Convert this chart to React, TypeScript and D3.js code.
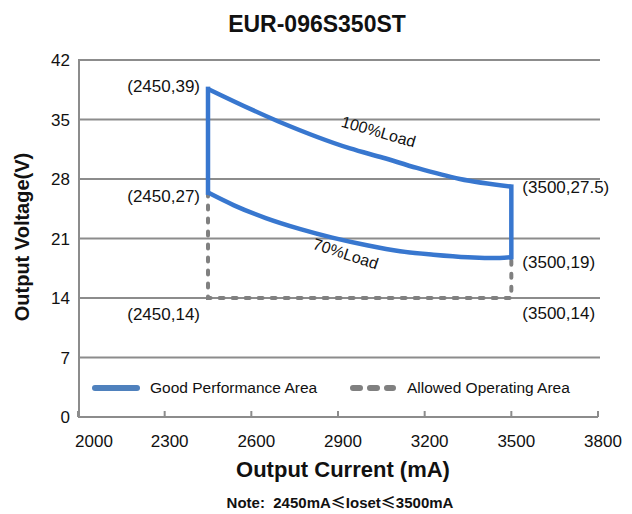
import React from "react";
import * as d3 from "d3";

const title = "EUR-096S350ST";
const xTicks = [2000, 2300, 2600, 2900, 3200, 3500, 3800];
const yTicks = [0, 7, 14, 21, 28, 35, 42];

// 100% load curve (mA, V)
const load100X = [2450, 2692, 2942, 3056, 3173, 3322, 3500];
const load100Y = [38.6, 34.8, 31.6, 30.5, 29.3, 28.0, 27.1];
// 70% load curve
const load70X = [2450, 2540, 2650, 2770, 2880, 3000, 3115, 3230, 3350, 3460, 3500];
const load70Y = [26.4, 24.9, 23.4, 22.1, 21.1, 20.2, 19.5, 19.1, 18.8, 18.7, 18.8];
// allowed operating area (dashed)
const allowedX = [2450, 2450, 3500, 3500];
const allowedY = [26.4, 14, 14, 18.8];

const pointLabels = [
  { text: "(2450,39)", x: 2450, y: 39, side: "left" },
  { text: "(2450,27)", x: 2450, y: 27, side: "left" },
  { text: "(2450,14)", x: 2450, y: 14, side: "left" },
  { text: "(3500,27.5)", x: 3500, y: 27.5, side: "right" },
  { text: "(3500,19)", x: 3500, y: 19, side: "right" },
  { text: "(3500,14)", x: 3500, y: 14, side: "right" },
];
const labelYOffsets = [6, 14, 22, 10, 12, 21];

const FONT = "'Liberation Sans', Arial, sans-serif";
const BLUE = "#3877CF";
const GRAY = "#808080";
const GRID = "#8c8c8c";

export default function App() {
  const W = 632, H = 514;
  const x = d3.scaleLinear().domain([2000, 3800]).range([78, 598]);
  const y = d3.scaleLinear().domain([0, 42]).range([417, 60]);

  const line = d3
    .line<[number, number]>()
    .x((d) => x(d[0]))
    .y((d) => y(d[1]))
    .curve(d3.curveMonotoneX);
  const straight = d3
    .line<[number, number]>()
    .x((d) => x(d[0]))
    .y((d) => y(d[1]));

  const top = load100X.map((v, i) => [v, load100Y[i]] as [number, number]);
  const bot = load70X.map((v, i) => [v, load70Y[i]] as [number, number]);
  const topPath = line(top)!;
  const botPath = line(bot)!;
  const leftSide = straight([top[0], bot[0]])!;
  const rightSide = straight([top[top.length - 1], bot[bot.length - 1]])!;
  const allowed = straight(allowedX.map((v, i) => [v, allowedY[i]] as [number, number]))!;

  const x0 = x(2000), x1 = x(3800);

  return (
    <svg width={W} height={H} style={{ position: "absolute", left: 0, top: 0, fontFamily: FONT }}>
      <rect width={W} height={H} fill="#fff" />
      <text x={317} y={32} textAnchor="middle" fontSize={23} fontWeight="bold" fill="#111">
        {title}
      </text>

      {/* gridlines */}
      {yTicks.filter((t) => t > 0).map((t) => (
        <line key={t} x1={x0} x2={600} y1={y(t)} y2={y(t)} stroke={GRID} strokeWidth={2} />
      ))}
      {/* y axis */}
      <line x1={x0 + 1} x2={x0 + 1} y1={y(42)} y2={y(0)} stroke={GRID} strokeWidth={2} />
      {/* x axis */}
      <line x1={x0} x2={x1} y1={y(0)} y2={y(0)} stroke={GRID} strokeWidth={2} />
      {xTicks.map((t) => (
        <line key={t} x1={x(t)} x2={x(t)} y1={y(0)} y2={y(0) - 6} stroke={GRID} strokeWidth={2} />
      ))}

      {yTicks.map((t) => (
        <text key={t} x={70} y={y(t) + 6} textAnchor="end" fontSize={17} fill="#111">
          {t}
        </text>
      ))}
      {xTicks.map((t, i) => (
        <text key={t} x={x(t) + (i === 0 ? 16 : 5)} y={447} textAnchor="middle" fontSize={17} fill="#111">
          {t}
        </text>
      ))}

      <text
        transform={`translate(29,237) rotate(-90)`}
        textAnchor="middle"
        fontSize={20}
        fontWeight="bold"
        fill="#111"
      >
        Output Voltage(V)
      </text>
      <text x={343} y={477} textAnchor="middle" fontSize={22} fontWeight="bold" fill="#111">
        Output Current (mA)
      </text>
      <text x={340} y={508} textAnchor="middle" fontSize={15} fontWeight="bold" fill="#111">
        Note:{"\u00a0\u00a0"}2450mA<tspan fontFamily="'Noto Sans CJK SC'">≤</tspan>Ioset
        <tspan fontFamily="'Noto Sans CJK SC'">≤</tspan>3500mA
      </text>

      {/* allowed operating area */}
      <path d={allowed} fill="none" stroke={GRAY} strokeWidth={4} strokeLinecap="round" strokeDasharray="4 9" />

      {/* good performance area */}
      <path d={topPath} fill="none" stroke={BLUE} strokeWidth={4.5} />
      <path d={botPath} fill="none" stroke={BLUE} strokeWidth={4.5} />
      <path d={leftSide} fill="none" stroke={BLUE} strokeWidth={4.5} strokeLinecap="square" />
      <path d={rightSide} fill="none" stroke={BLUE} strokeWidth={4.5} strokeLinecap="square" />

      {/* curve labels */}
      <text transform={`translate(377,137) rotate(16)`} textAnchor="middle" fontSize={16} fill="#111">
        100%Load
      </text>
      <text transform={`translate(344,259) rotate(18)`} textAnchor="middle" fontSize={16} fill="#111">
        70%Load
      </text>

      {/* point labels */}
      {pointLabels.map((p, i) => (
        <text
          key={p.text}
          x={p.side === "left" ? x(p.x) - 8 : x(p.x) + 11}
          y={y(p.y) + labelYOffsets[i]}
          textAnchor={p.side === "left" ? "end" : "start"}
          fontSize={17}
          fill="#111"
        >
          {p.text}
        </text>
      ))}

      {/* legend */}
      <line x1={95} x2={137} y1={388} y2={388} stroke="#4F81BD" strokeWidth={6} strokeLinecap="round" />
      <text x={150} y={393} fontSize={15.5} fill="#111">Good Performance Area</text>
      <line x1={353} x2={393} y1={388} y2={388} stroke={GRAY} strokeWidth={6} strokeLinecap="round" strokeDasharray="7 10" />
      <text x={407} y={393} fontSize={15.5} fill="#111">Allowed Operating Area</text>
    </svg>
  );
}
